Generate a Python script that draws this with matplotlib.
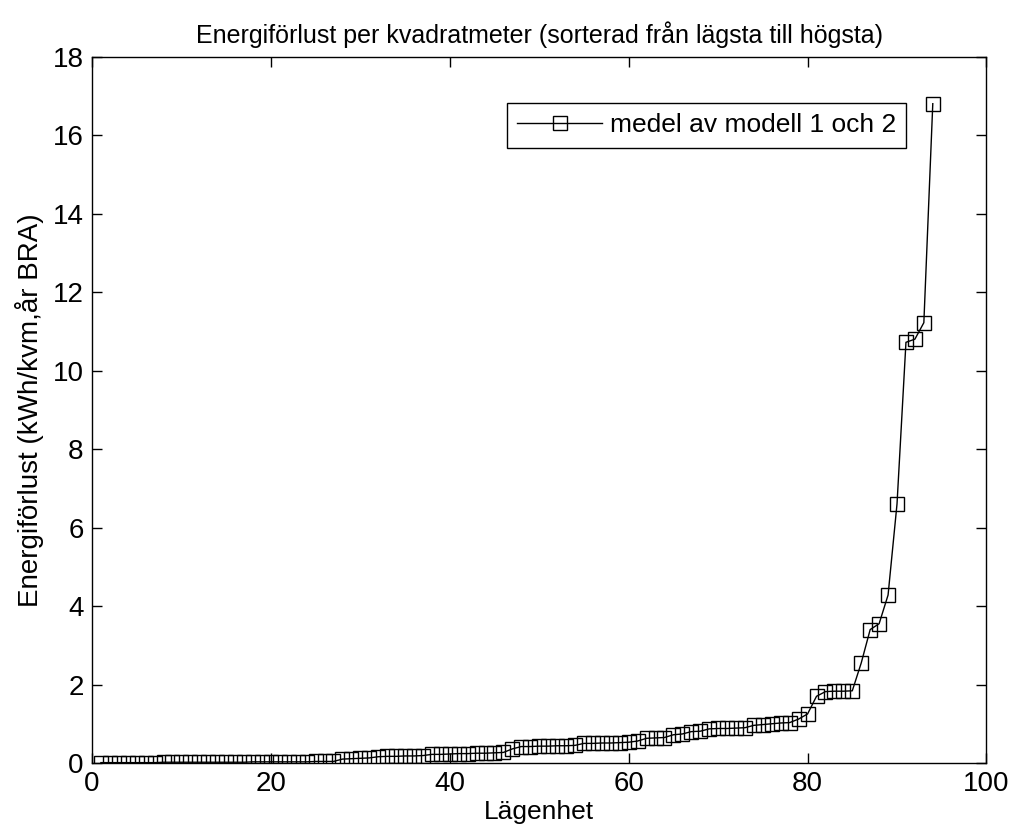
import matplotlib
matplotlib.use("Agg")
import matplotlib.pyplot as plt
import numpy as np

plt.rcParams['font.family'] = ['Liberation Sans', 'DejaVu Sans']

# sorted energy loss per apartment (kWh/kvm,år BRA)
lagenhet = np.arange(1, 95)
energiforlust = [
    0.01, 0.01, 0.01, 0.01, 0.01, 0.01, 0.01, 0.02, 0.02, 0.02,
    0.02, 0.02, 0.02, 0.02, 0.02, 0.02, 0.02, 0.03, 0.03, 0.03,
    0.03, 0.03, 0.03, 0.03, 0.04, 0.04, 0.04,
    0.10, 0.11, 0.12, 0.13,
    0.16, 0.17, 0.17, 0.18, 0.18, 0.19,
    0.22, 0.22,
    0.23, 0.24, 0.24, 0.25, 0.25, 0.26, 0.27,
    0.36,
    0.42, 0.42, 0.43, 0.43, 0.44, 0.44, 0.45,
    0.50, 0.50, 0.51, 0.51, 0.52, 0.53,
    0.56,
    0.63, 0.64, 0.65,
    0.72, 0.74,
    0.80, 0.81,
    0.87, 0.88, 0.88, 0.89, 0.90,
    0.96,
    0.98, 1.00,
    1.02, 1.03,
    1.12, 1.25, 1.70,
    1.82, 1.83, 1.83, 1.84,
    2.55, 3.40, 3.55, 4.28, 6.60,
    10.72, 10.80, 11.22, 16.80,
]
serie_namn = "medel av modell 1 och 2"
xticks = [0, 20, 40, 60, 80, 100]
yticks = [0, 2, 4, 6, 8, 10, 12, 14, 16, 18]

fig = plt.figure(figsize=(10.13, 8.36), dpi=100)
ax = fig.add_axes([0.0908, 0.0873, 0.883, 0.845])

ax.plot(lagenhet, energiforlust, color='black', linewidth=1.0,
        marker='s', markersize=9.5, markerfacecolor='none',
        markeredgecolor='black', markeredgewidth=1.0, label=serie_namn)

ax.set_xlim(0, 100)
ax.set_ylim(0, 18)
ax.set_xticks(xticks)
ax.set_yticks(yticks)
ax.tick_params(direction='in', length=7, width=1, top=True, right=True,
               labelsize=20, pad=6)
for s in ax.spines.values():
    s.set_linewidth(1.0)

ax.set_xlabel("Lägenhet", fontsize=19, labelpad=2)
ax.set_ylabel("Energiförlust (kWh/kvm,år BRA)", fontsize=20, labelpad=6)
ax.set_title("Energiförlust per kvadratmeter (sorterad från lägsta till högsta)",
             fontsize=18, pad=10)

leg = ax.legend(loc='upper right', bbox_to_anchor=(0.9106, 0.935), fontsize=19,
                handlelength=3.2, handletextpad=0.3, borderaxespad=0,
                fancybox=False, framealpha=1, edgecolor='black',
                borderpad=0.4)
leg.get_frame().set_linewidth(1.0)

fig.savefig("out.png", dpi=100)
